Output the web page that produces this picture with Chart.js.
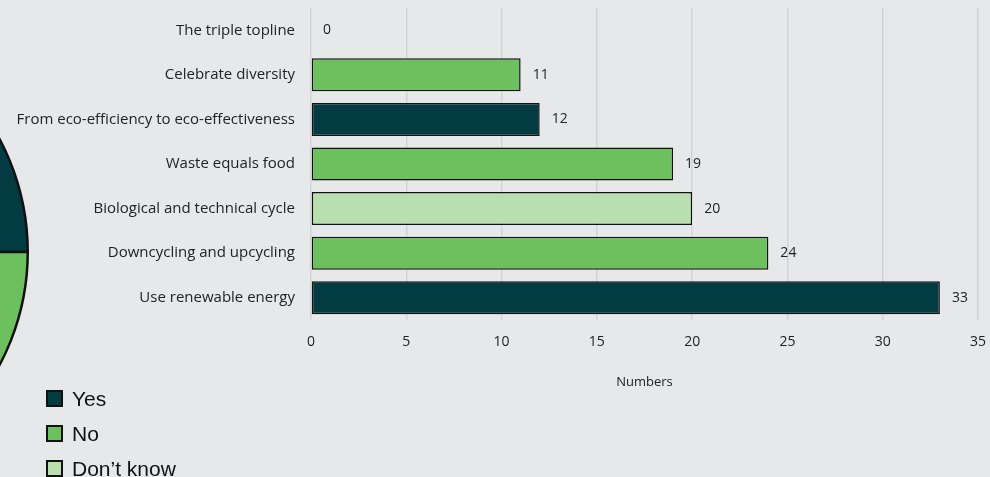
<!DOCTYPE html>
<html>
<head>
<meta charset="utf-8">
<script src="https://cdn.jsdelivr.net/npm/chart.js@4/dist/chart.umd.min.js"></script>
<style>
  html, body { margin: 0; padding: 0; }
  body {
    width: 990px; height: 477px; overflow: hidden; position: relative;
    background: #e7e8ea; font-family: "Liberation Sans", Arial, sans-serif;
  }
  #pieWrap { position: absolute; left: -473px; top: -8px; width: 520px; height: 520px; }
  #barWrap { position: absolute; left: 0; top: 0; width: 990px; height: 477px; }
  #legend { position: absolute; left: 46px; top: 381px; }
  .item { display: flex; align-items: center; height: 35px; font-size: 21px; color: #111; }
  .box { width: 13px; height: 13px; border: 2px solid #111; margin-right: 9px; }
</style>
</head>
<body>
<div id="pieWrap"><canvas id="pie" width="520" height="520"></canvas></div>
<div id="barWrap"><canvas id="bars" width="990" height="477"></canvas></div>
<div id="legend"></div>
<script>
// données du graphique à barres (de haut en bas)
const categories = [
  'The triple topline',
  'Celebrate diversity',
  'From eco-efficiency to eco-effectiveness',
  'Waste equals food',
  'Biological and technical cycle',
  'Downcycling and upcycling',
  'Use renewable energy'
];
const numbers = [0, 11, 12, 19, 20, 24, 33];
const xTicks = [0, 5, 10, 15, 20, 25, 30, 35];

// camembert (seule une partie est visible)
const answerLabels = ['Yes', 'No', "Don\u2019t know"];
const answerShares = [25, 60, 15];

const DARK = '#023b42', GREEN = '#6cc05d', LIGHT = '#b8dfad';
const barColors = [GREEN, GREEN, DARK, GREEN, LIGHT, GREEN, DARK];
const pieColors = [DARK, GREEN, LIGHT];
const FONT = '"Open Sans", "Liberation Sans", Arial, sans-serif';

// étiquettes de valeur à droite des barres
const valueLabels = {
  id: 'valueLabels',
  afterDatasetsDraw(chart) {
    const ctx = chart.ctx;
    const meta = chart.getDatasetMeta(0);
    ctx.save();
    ctx.font = '14px ' + FONT;
    ctx.fillStyle = '#222';
    ctx.textAlign = 'left';
    ctx.textBaseline = 'middle';
    meta.data.forEach((bar, i) => {
      ctx.fillText(String(numbers[i]), bar.x + 12, bar.y);
    });
    ctx.restore();
  }
};

new Chart(document.getElementById('bars').getContext('2d'), {
  type: 'bar',
  data: {
    labels: categories,
    datasets: [{
      label: 'Numbers',
      data: numbers,
      backgroundColor: barColors,
      borderColor: '#111',
      borderWidth: 1.5,
      borderSkipped: false,
      barPercentage: 0.74,
      categoryPercentage: 1
    }]
  },
  options: {
    indexAxis: 'y',
    responsive: false,
    animation: false,
    layout: { padding: { top: 8, right: 12, bottom: 85, left: 0 } },
    plugins: { legend: { display: false }, tooltip: { enabled: false } },
    scales: {
      x: {
        min: 0, max: 35,
        afterBuildTicks: (s) => { s.ticks = xTicks.map(v => ({ value: v })); },
        afterFit: (s) => { s.height = 72; s.paddingLeft = 0; s.paddingRight = 0; },
        grid: { color: '#d2d3d5', lineWidth: 1.5, drawTicks: false },
        border: { display: false },
        ticks: { padding: 14, color: '#222', font: { size: 14, family: FONT } },
        title: {
          display: true, text: 'Numbers', color: '#222',
          padding: { top: 4, bottom: 2 },
          font: { size: 13, family: FONT }
        }
      },
      y: {
        afterFit: (s) => { s.width = 311; s.paddingTop = 0; s.paddingBottom = 0; },
        grid: { display: false, drawTicks: false },
        border: { display: false },
        ticks: { padding: 16, color: '#222', font: { size: 15, family: FONT } }
      }
    }
  },
  plugins: [valueLabels]
});

new Chart(document.getElementById('pie').getContext('2d'), {
  type: 'pie',
  data: {
    labels: answerLabels,
    datasets: [{
      data: answerShares,
      backgroundColor: pieColors,
      borderColor: '#111',
      borderWidth: 2.5
    }]
  },
  options: {
    responsive: false,
    animation: false,
    layout: { padding: 18 },
    plugins: { legend: { display: false }, tooltip: { enabled: false } }
  }
});

// légende du camembert
const legend = document.getElementById('legend');
answerLabels.forEach((lab, i) => {
  const row = document.createElement('div');
  row.className = 'item';
  row.innerHTML = '<span class="box" style="background:' + pieColors[i] + '"></span>' + lab;
  legend.appendChild(row);
});
</script>
</body>
</html>
